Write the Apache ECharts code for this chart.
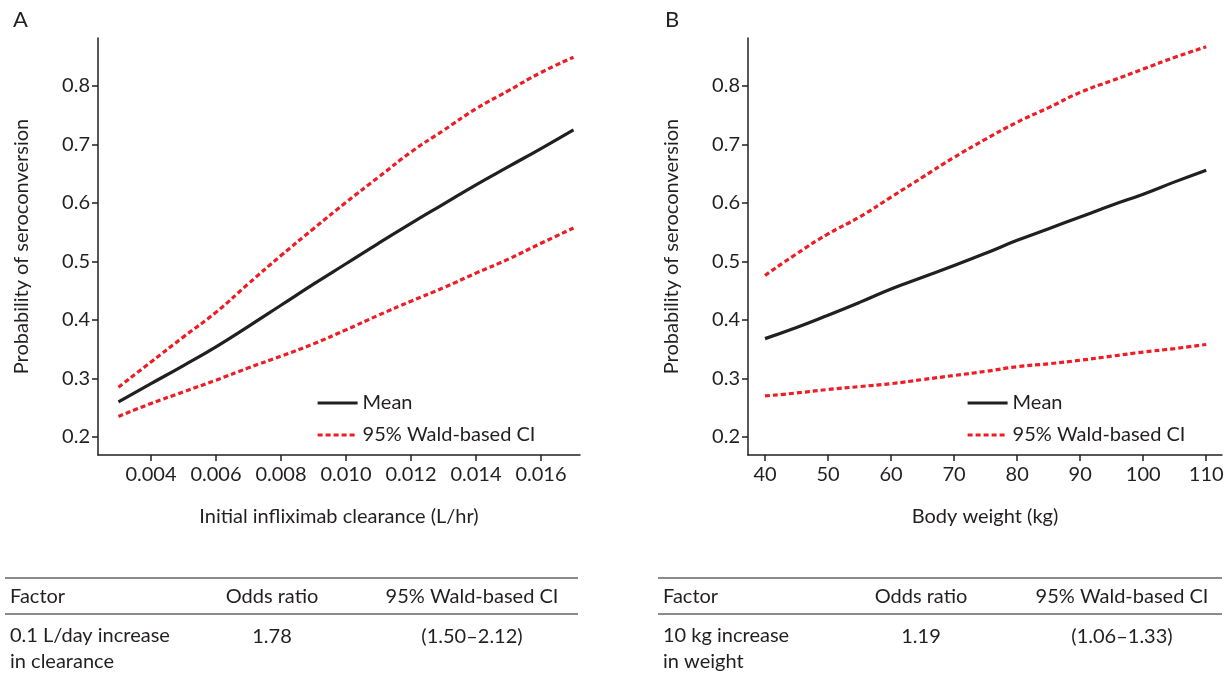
<!DOCTYPE html>
<html><head><meta charset="utf-8">
<script src="https://cdn.jsdelivr.net/npm/echarts@6/dist/echarts.min.js"></script>
<style>html,body{margin:0;padding:0;background:#fff}#c{width:1228px;height:673px}</style>
</head><body><div id="c"></div>
<script>
// Panel A data
const clearanceX = [0.003,0.004,0.005,0.006,0.007,0.008,0.009,0.010,0.011,0.012,0.013,0.014,0.015,0.016,0.017];
const meanA  = [0.260,0.291,0.322,0.354,0.389,0.425,0.461,0.496,0.531,0.565,0.598,0.631,0.662,0.693,0.725];
const upperA = [0.285,0.328,0.371,0.413,0.462,0.510,0.556,0.601,0.644,0.687,0.724,0.761,0.792,0.823,0.849];
const lowerA = [0.235,0.257,0.277,0.297,0.318,0.338,0.359,0.383,0.408,0.432,0.455,0.480,0.504,0.531,0.557];
// Panel B data
const weightX = [40,45,50,55,60,65,70,75,80,85,90,95,100,105,110];
const meanB  = [0.368,0.387,0.408,0.430,0.453,0.473,0.493,0.514,0.536,0.556,0.576,0.596,0.615,0.636,0.656];
const upperB = [0.476,0.513,0.547,0.576,0.610,0.644,0.678,0.709,0.738,0.763,0.789,0.809,0.829,0.849,0.867];
const lowerB = [0.270,0.275,0.281,0.286,0.291,0.298,0.305,0.312,0.320,0.325,0.331,0.338,0.345,0.351,0.358];
// Tick labels
const yTicks = [0.2,0.3,0.4,0.5,0.6,0.7,0.8];
const xTicksA = [0.004,0.006,0.008,0.010,0.012,0.014,0.016];
const xTicksB = [40,50,60,70,80,90,100,110];
// Tables
const tableHeader = ['Factor','Odds ratio','95% Wald-based CI'];
const tableA = ['0.1 L/day increase\nin clearance','1.78','(1.50–2.12)'];
const tableB = ['10 kg increase\nin weight','1.19','(1.06–1.33)'];

const FONT = 'Lato';
const FS = 20;
const INK = '#231f20';
const RED = '#ee1c25';
const pair = (xs, ys) => xs.map((x,i)=>[x, ys[i]]);

function yAxis(idx){
  return {type:'value', gridIndex:idx, min:0.169, max:0.882,
    name:'Probability of seroconversion', nameLocation:'middle', nameGap:66,
    nameTextStyle:{fontFamily:FONT,fontSize:FS,color:INK},
    axisLine:{show:true,lineStyle:{color:INK,width:1.5}},
    axisTick:{show:true,length:6,lineStyle:{color:INK,width:1.5},customValues:yTicks},
    axisLabel:{fontFamily:FONT,fontSize:FS,color:INK,margin:8,customValues:yTicks,formatter:v=>v.toFixed(1)},
    splitLine:{show:false}};
}
function xAxis(idx,min,max,ticks,name,dec){
  return {type:'value', gridIndex:idx, min:min, max:max,
    name:name, nameLocation:'middle', nameGap:52,
    nameTextStyle:{fontFamily:FONT,fontSize:FS,color:INK},
    axisLine:{show:true,onZero:false,lineStyle:{color:INK,width:1.5}},
    axisTick:{show:true,length:6,lineStyle:{color:INK,width:1.5},customValues:ticks},
    axisLabel:{fontFamily:FONT,fontSize:FS,color:INK,margin:10,customValues:ticks,formatter:v=>v.toFixed(dec)},
    splitLine:{show:false}};
}
function lineSeries(name,data,idx,dashed){
  return {type:'line', name:name, xAxisIndex:idx, yAxisIndex:idx, data:data,
    symbol:'none', smooth:true, silent:true,
    lineStyle: dashed ? {color:RED,width:3.2,type:[5,3]} : {color:INK,width:3.2},
    itemStyle:{color: dashed?RED:INK}};
}
function legend(left){
  return {orient:'vertical', left:left, top:393, padding:0, itemWidth:40, itemHeight:18, itemGap:12,
    data:['Mean','95% Wald-based CI'], selectedMode:false,
    itemStyle:{opacity:0},
    lineStyle:{width:3.2},
    textStyle:{fontFamily:FONT,fontSize:FS,color:INK}};
}
function table(x0,x1,c2,c3,row){
  const els = [];
  const lineStyle = {stroke:'#8a8a8a',lineWidth:2};
  els.push({type:'line',shape:{x1:x0,y1:578,x2:x1,y2:578},style:lineStyle});
  els.push({type:'line',shape:{x1:x0,y1:614,x2:x1,y2:614},style:lineStyle});
  const f = FS+'px '+FONT;
  const ts = (t,x,y,align)=>({type:'text',x:x,y:y,style:{text:t,fill:INK,font:f,textAlign:align,textVerticalAlign:'middle'}});
  els.push(ts(tableHeader[0],x0+5,597,'left'));
  els.push(ts(tableHeader[1],c2,597,'center'));
  els.push(ts(tableHeader[2],c3,597,'center'));
  els.push({type:'text',x:x0+5,y:623,style:{text:row[0],fill:INK,font:f,textAlign:'left',textVerticalAlign:'top',lineHeight:26}});
  els.push(ts(row[1],c2,637,'center'));
  els.push(ts(row[2],c3,637,'center'));
  return els;
}

const chart = echarts.init(document.getElementById('c'));
chart.setOption({
  animation:false,
  grid:[{left:98,top:38,width:482,height:417},{left:748,top:38,width:474,height:417}],
  xAxis:[xAxis(0,0.00237,0.0172,xTicksA,'Initial infliximab clearance (L/hr)',3), xAxis(1,37.3,112.5,xTicksB,'Body weight (kg)',0)],
  yAxis:[yAxis(0),yAxis(1)],
  legend:[legend(316),legend(966)],
  series:[
    lineSeries('Mean',pair(clearanceX,meanA),0,false),
    lineSeries('95% Wald-based CI',pair(clearanceX,upperA),0,true),
    lineSeries('95% Wald-based CI',pair(clearanceX,lowerA),0,true),
    lineSeries('Mean',pair(weightX,meanB),1,false),
    lineSeries('95% Wald-based CI',pair(weightX,upperB),1,true),
    lineSeries('95% Wald-based CI',pair(weightX,lowerB),1,true)
  ],
  graphic:[
    {type:'text',x:13,y:9,style:{text:'A',fill:INK,font:'22px '+FONT}},
    {type:'text',x:665,y:9,style:{text:'B',fill:INK,font:'22px '+FONT}},
    ...table(5,578,272,472,tableA),
    ...table(658,1222,921,1122,tableB)
  ]
});
</script></body></html>
